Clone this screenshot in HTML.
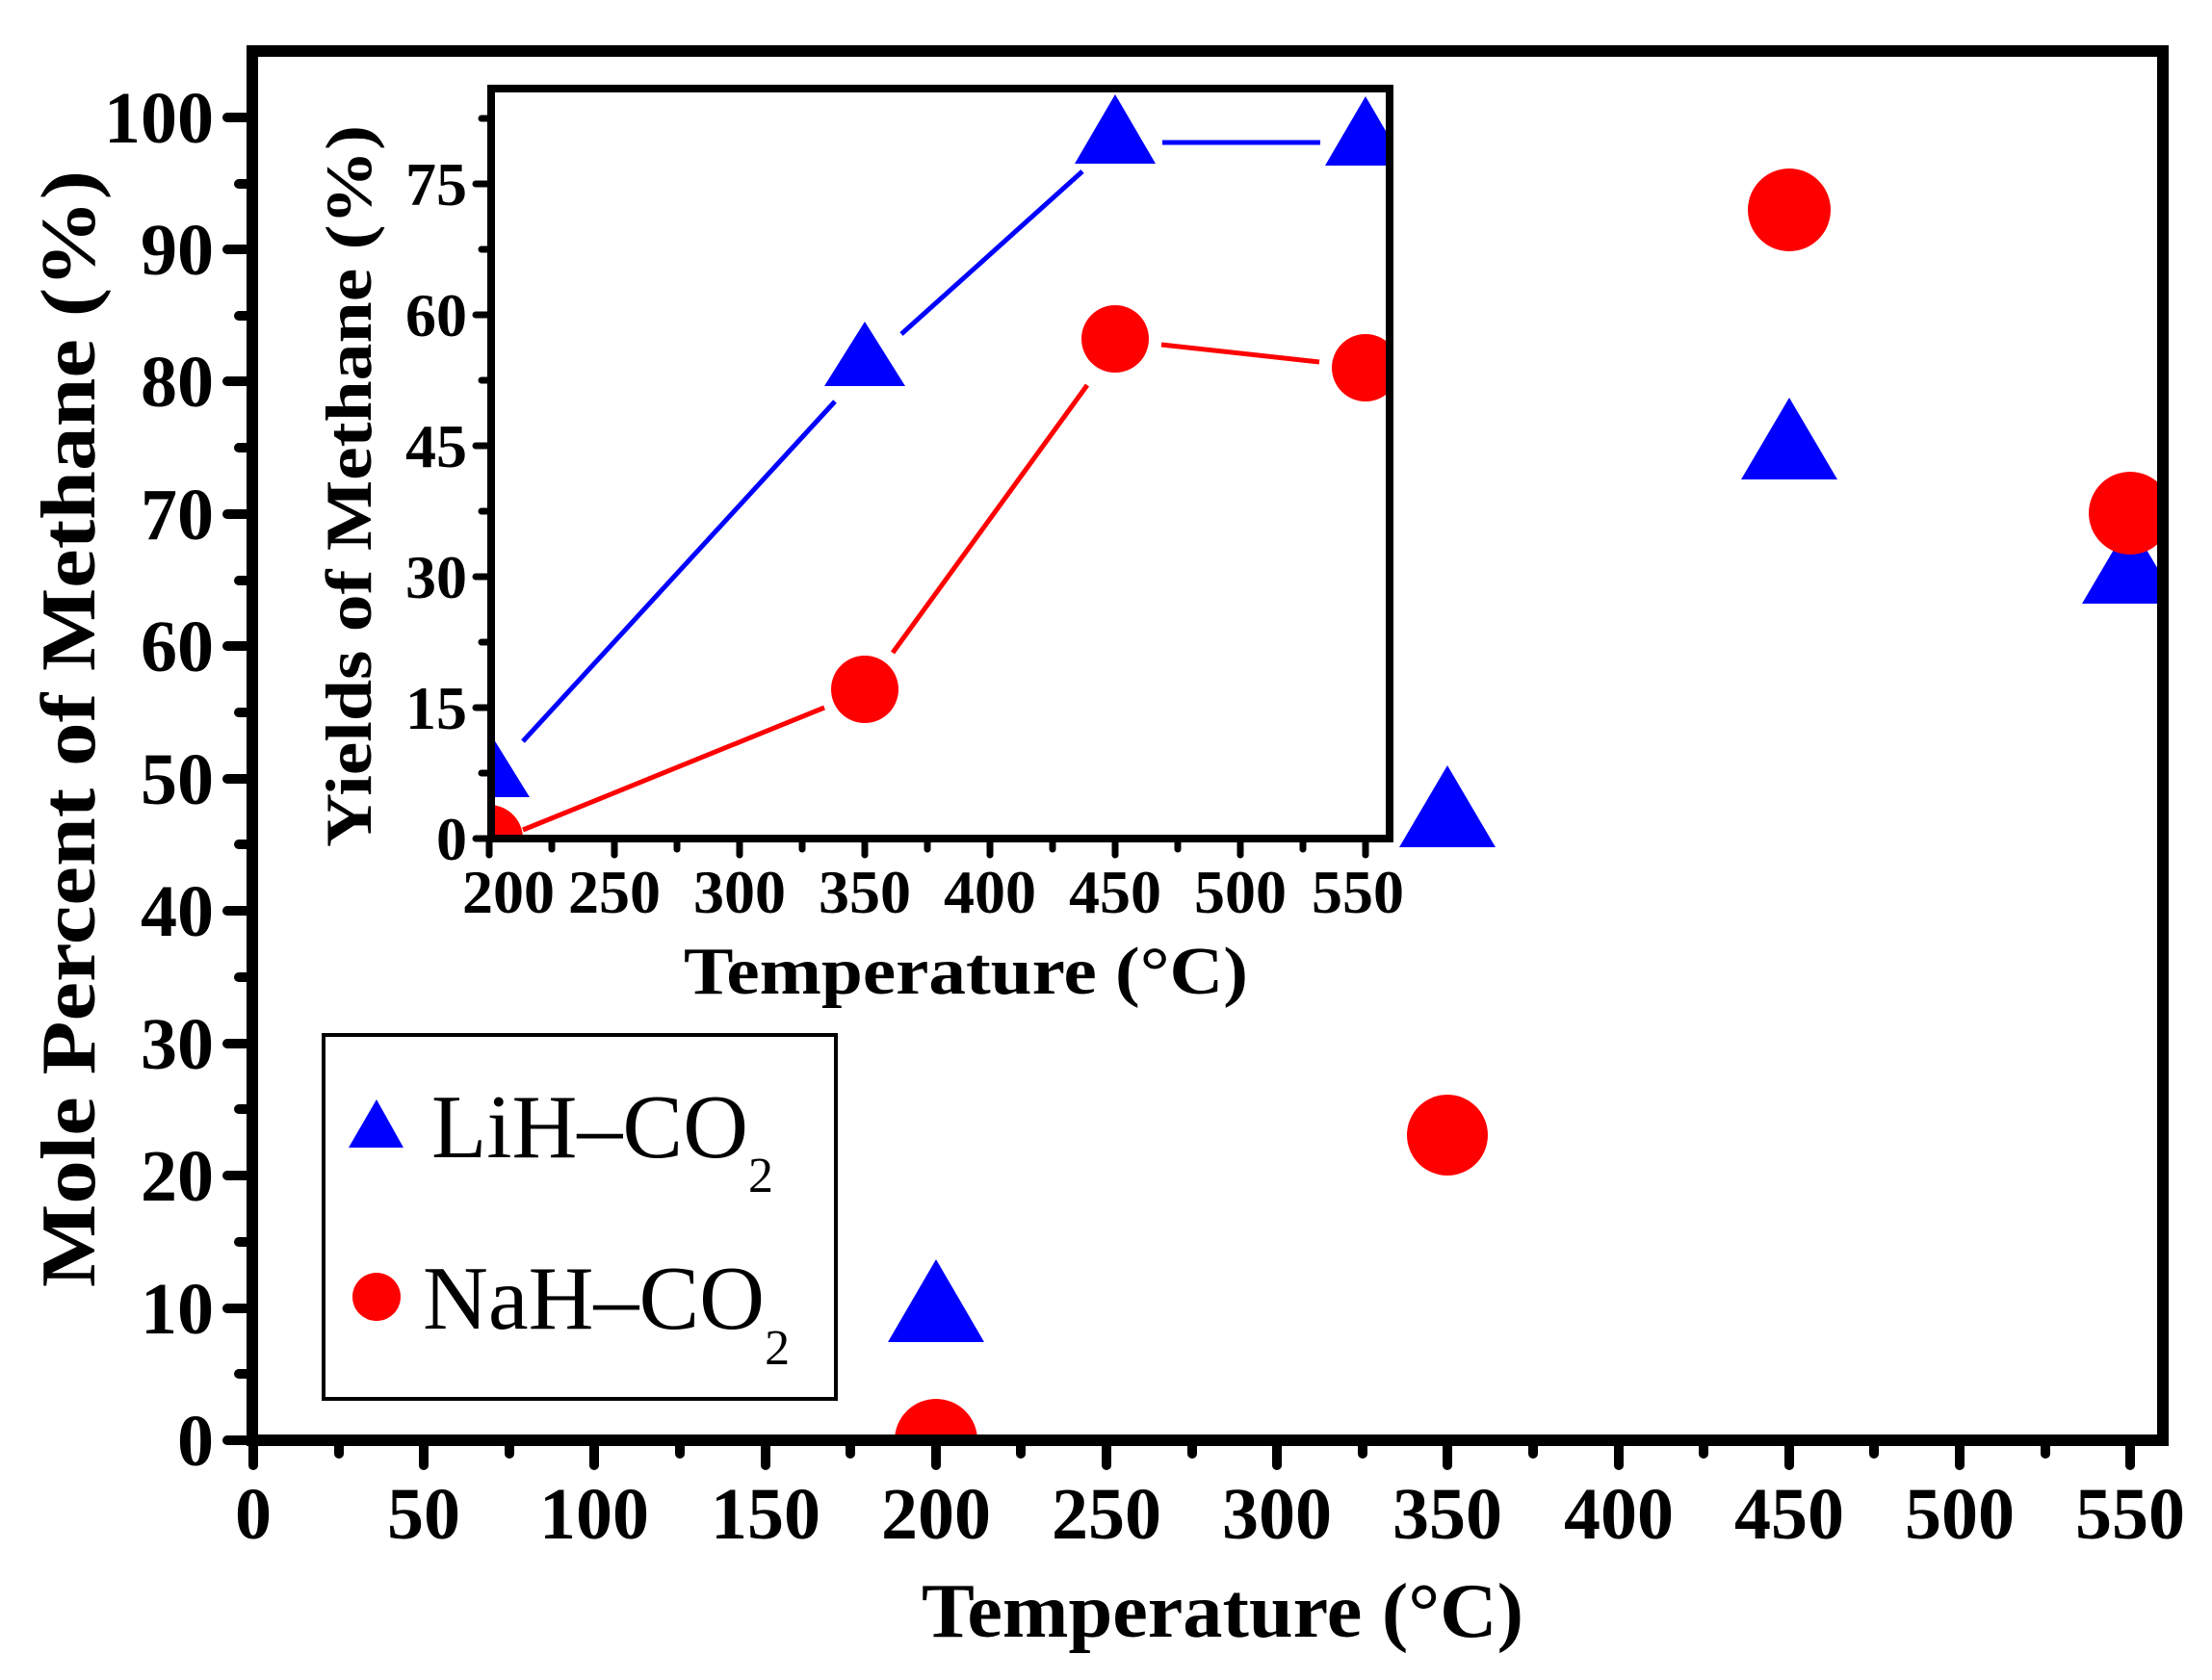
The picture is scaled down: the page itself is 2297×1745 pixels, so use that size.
<!DOCTYPE html>
<html><head><meta charset="utf-8"><style>
html,body{margin:0;padding:0;background:#fff;}
svg{display:block;}
text{font-family:"Liberation Serif",serif;}
</style></head><body>
<svg width="2297" height="1745" viewBox="0 0 2297 1745" xmlns="http://www.w3.org/2000/svg">
<defs>
<clipPath id="mc"><rect x="262" y="53" width="1984" height="1443"/></clipPath>
<clipPath id="ic"><rect x="510" y="92" width="933" height="779"/></clipPath>
</defs>
<rect width="2297" height="1745" fill="#fff"/>

<g clip-path="url(#mc)">
<circle cx="972" cy="1496" r="43" fill="#f00"/>
<circle cx="1503" cy="1179" r="42" fill="#f00"/>
<circle cx="1858" cy="218" r="43" fill="#f00"/>
<polygon points="972,1308 1022,1394 922,1394" fill="#00f"/>
<polygon points="1503,795 1553,880 1453,880" fill="#00f"/>
<polygon points="1858,413 1908,498 1808,498" fill="#00f"/>
<polygon points="2212,542 2262,627 2162,627" fill="#00f"/>
<circle cx="2212" cy="533" r="43" fill="#f00"/>
</g>

<rect x="262" y="53" width="1984" height="1443" fill="none" stroke="#000" stroke-width="12"/>
<g stroke="#000" stroke-width="10" stroke-linecap="round">
<line x1="262" y1="1496" x2="236" y2="1496"/><line x1="262" y1="1427" x2="248" y2="1427"/>
<line x1="262" y1="1359" x2="236" y2="1359"/><line x1="262" y1="1290" x2="248" y2="1290"/>
<line x1="262" y1="1221" x2="236" y2="1221"/><line x1="262" y1="1152" x2="248" y2="1152"/>
<line x1="262" y1="1084" x2="236" y2="1084"/><line x1="262" y1="1015" x2="248" y2="1015"/>
<line x1="262" y1="946" x2="236" y2="946"/><line x1="262" y1="877" x2="248" y2="877"/>
<line x1="262" y1="809" x2="236" y2="809"/><line x1="262" y1="740" x2="248" y2="740"/>
<line x1="262" y1="671" x2="236" y2="671"/><line x1="262" y1="603" x2="248" y2="603"/>
<line x1="262" y1="534" x2="236" y2="534"/><line x1="262" y1="465" x2="248" y2="465"/>
<line x1="262" y1="396" x2="236" y2="396"/><line x1="262" y1="328" x2="248" y2="328"/>
<line x1="262" y1="259" x2="236" y2="259"/><line x1="262" y1="191" x2="248" y2="191"/>
<line x1="262" y1="122" x2="236" y2="122"/>
<line x1="263" y1="1496" x2="263" y2="1522"/><line x1="352" y1="1496" x2="352" y2="1510"/>
<line x1="440" y1="1496" x2="440" y2="1522"/><line x1="529" y1="1496" x2="529" y2="1510"/>
<line x1="617" y1="1496" x2="617" y2="1522"/><line x1="706" y1="1496" x2="706" y2="1510"/>
<line x1="795" y1="1496" x2="795" y2="1522"/><line x1="883" y1="1496" x2="883" y2="1510"/>
<line x1="972" y1="1496" x2="972" y2="1522"/><line x1="1060" y1="1496" x2="1060" y2="1510"/>
<line x1="1149" y1="1496" x2="1149" y2="1522"/><line x1="1238" y1="1496" x2="1238" y2="1510"/>
<line x1="1326" y1="1496" x2="1326" y2="1522"/><line x1="1415" y1="1496" x2="1415" y2="1510"/>
<line x1="1503" y1="1496" x2="1503" y2="1522"/><line x1="1592" y1="1496" x2="1592" y2="1510"/>
<line x1="1681" y1="1496" x2="1681" y2="1522"/><line x1="1769" y1="1496" x2="1769" y2="1510"/>
<line x1="1858" y1="1496" x2="1858" y2="1522"/><line x1="1946" y1="1496" x2="1946" y2="1510"/>
<line x1="2035" y1="1496" x2="2035" y2="1522"/><line x1="2124" y1="1496" x2="2124" y2="1510"/>
<line x1="2212" y1="1496" x2="2212" y2="1522"/>
</g>
<g font-size="76" font-weight="bold" text-anchor="end">
<text x="222" y="1522">0</text><text x="222" y="1385">10</text><text x="222" y="1247">20</text>
<text x="222" y="1110">30</text><text x="222" y="972">40</text><text x="222" y="835">50</text>
<text x="222" y="697">60</text><text x="222" y="560">70</text><text x="222" y="422">80</text>
<text x="222" y="285">90</text><text x="222" y="148">100</text>
</g>
<g font-size="76" font-weight="bold" text-anchor="middle">
<text x="263" y="1598">0</text><text x="440" y="1598">50</text><text x="617" y="1598">100</text>
<text x="795" y="1598">150</text><text x="972" y="1598">200</text><text x="1149" y="1598">250</text>
<text x="1326" y="1598">300</text><text x="1503" y="1598">350</text><text x="1681" y="1598">400</text>
<text x="1858" y="1598">450</text><text x="2035" y="1598">500</text><text x="2212" y="1598">550</text>
</g>
<text x="957" y="1700" font-size="80" font-weight="bold" textLength="625" lengthAdjust="spacingAndGlyphs">Temperature (°C)</text>
<text transform="translate(98,757) rotate(-90)" font-size="80" font-weight="bold" text-anchor="middle" textLength="1160" lengthAdjust="spacingAndGlyphs">Mole Percent of Methane (%)</text>

<rect x="336" y="1075" width="532" height="378" fill="#fff" stroke="#000" stroke-width="4"/>
<polygon points="391,1142 419,1192 362,1192" fill="#00f"/>
<circle cx="391" cy="1347" r="25" fill="#f00"/>
<text x="448" y="1202" font-size="94">LiH–CO<tspan font-size="52" dy="36">2</tspan></text>
<text x="439" y="1380" font-size="94">NaH–CO<tspan font-size="52" dy="37">2</tspan></text>

<rect x="510" y="92" width="933" height="779" fill="#fff"/>
<g clip-path="url(#ic)">
<g stroke-width="5" fill="none">
<polyline points="543,770 867,417" stroke="#00f"/>
<polyline points="936,347 1124,178" stroke="#00f"/>
<polyline points="1207,148 1371,148" stroke="#00f"/>
<polyline points="543,862 856,735" stroke="#f00"/>
<polyline points="927,678 1129,400" stroke="#f00"/>
<polyline points="1206,358 1370,376" stroke="#f00"/>
</g>
<polygon points="508,760 550,828 466,828" fill="#00f"/>
<polygon points="898,334 940,401 856,401" fill="#00f"/>
<polygon points="1158,98 1200,170 1116,170" fill="#00f"/>
<polygon points="1418,100 1460,172 1376,172" fill="#00f"/>
<circle cx="508" cy="871" r="35" fill="#f00"/>
<circle cx="898" cy="716" r="35" fill="#f00"/>
<circle cx="1158" cy="352" r="35" fill="#f00"/>
<circle cx="1418" cy="382" r="35" fill="#f00"/>
</g>
<rect x="510" y="92" width="933" height="779" fill="none" stroke="#000" stroke-width="8"/>
<g stroke="#000" stroke-width="7" stroke-linecap="round">
<line x1="510" y1="871" x2="494" y2="871"/><line x1="510" y1="803" x2="500" y2="803"/>
<line x1="510" y1="735" x2="494" y2="735"/><line x1="510" y1="667" x2="500" y2="667"/>
<line x1="510" y1="599" x2="494" y2="599"/><line x1="510" y1="531" x2="500" y2="531"/>
<line x1="510" y1="463" x2="494" y2="463"/><line x1="510" y1="395" x2="500" y2="395"/>
<line x1="510" y1="327" x2="494" y2="327"/><line x1="510" y1="259" x2="500" y2="259"/>
<line x1="510" y1="191" x2="494" y2="191"/><line x1="510" y1="123" x2="500" y2="123"/>
<line x1="508" y1="871" x2="508" y2="888"/><line x1="573" y1="871" x2="573" y2="882"/>
<line x1="638" y1="871" x2="638" y2="888"/><line x1="703" y1="871" x2="703" y2="882"/>
<line x1="768" y1="871" x2="768" y2="888"/><line x1="833" y1="871" x2="833" y2="882"/>
<line x1="898" y1="871" x2="898" y2="888"/><line x1="963" y1="871" x2="963" y2="882"/>
<line x1="1028" y1="871" x2="1028" y2="888"/><line x1="1093" y1="871" x2="1093" y2="882"/>
<line x1="1158" y1="871" x2="1158" y2="888"/><line x1="1223" y1="871" x2="1223" y2="882"/>
<line x1="1288" y1="871" x2="1288" y2="888"/><line x1="1353" y1="871" x2="1353" y2="882"/>
<line x1="1418" y1="871" x2="1418" y2="888"/>
</g>
<g font-size="64" font-weight="bold" text-anchor="end">
<text x="485" y="893">0</text><text x="485" y="757">15</text><text x="485" y="621">30</text>
<text x="485" y="485">45</text><text x="485" y="349">60</text><text x="485" y="213">75</text>
</g>
<g font-size="64" font-weight="bold" text-anchor="middle">
<text x="528" y="948">200</text><text x="638" y="948">250</text><text x="768" y="948">300</text>
<text x="898" y="948">350</text><text x="1028" y="948">400</text><text x="1158" y="948">450</text>
<text x="1288" y="948">500</text><text x="1410" y="948">550</text>
</g>
<text x="710" y="1032" font-size="70" font-weight="bold" textLength="586" lengthAdjust="spacingAndGlyphs">Temperature (°C)</text>
<text transform="translate(385,505) rotate(-90)" font-size="68" font-weight="bold" text-anchor="middle" textLength="750" lengthAdjust="spacingAndGlyphs">Yields of Methane (%)</text>
</svg>
</body></html>
